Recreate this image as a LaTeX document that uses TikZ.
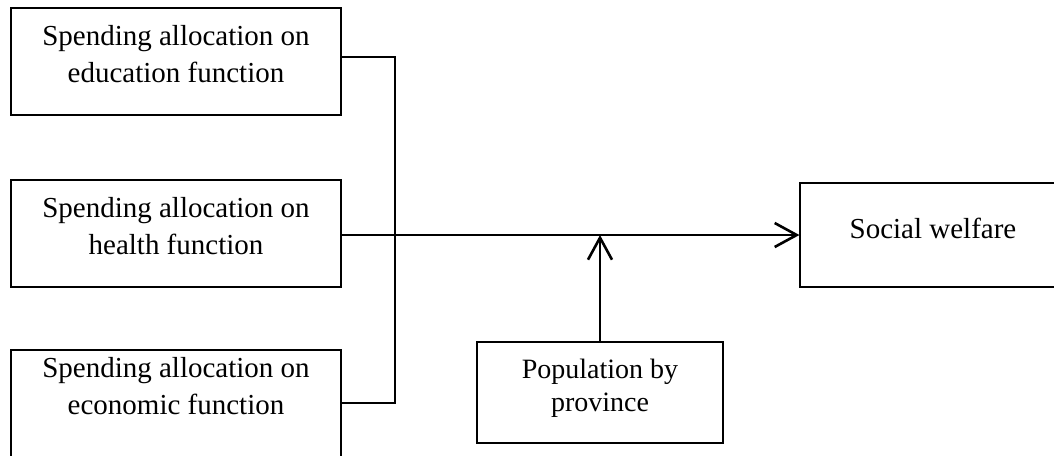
\documentclass[tikz,border=0pt]{standalone}
\usepackage{fontspec}
\setmainfont{Liberation Serif}
\usetikzlibrary{arrows.meta}
\tikzset{
  box/.style = {draw=black, line width=0.6pt, align=center, inner sep=0pt,
    minimum width=165pt, minimum height=53.5pt, text depth=8pt,
    font=\fontsize{14.5}{18.5}\selectfont},
  link/.style = {draw=black, line width=0.6pt},
  flow/.style = {draw=black, line width=1.3pt, -{Straight Barb[length=11pt,width=12pt]}},
}

\begin{document}
\begin{tikzpicture}[x=0.5pt, y=-0.5pt]
  \clip (0,0) rectangle (1054,455);
  % spending boxes
  \node [box] (edu) at (176,61.5) {Spending allocation on\\education function};
  \node [box] (hlt) at (176,233.5) {Spending allocation on\\health function};
  \node [box, text depth=18pt] (eco) at (176,403.5) {Spending allocation on\\economic function};
  % outcome and moderator
  \node [box, minimum width=133pt, minimum height=52pt, text depth=6.5pt] (wel) at (933,235) {Social welfare};
  \node [box, minimum width=123pt, minimum height=50.5pt, text depth=7pt,
    font=\fontsize{14}{16.5}\selectfont] (pop) at (600,392.5) {Population by\\province};
  \coordinate (j1) at (395,57);
  \coordinate (j3) at (395,403);
  \draw [link] (edu.east |- j1) -- (j1) -- (j3) -- (eco.east |- j3);
  \draw [flow] (hlt.east |- wel.west) -- (wel.west);
  \draw [flow] (pop.north) -- (pop.north |- wel.west);
\end{tikzpicture}
\end{document}
